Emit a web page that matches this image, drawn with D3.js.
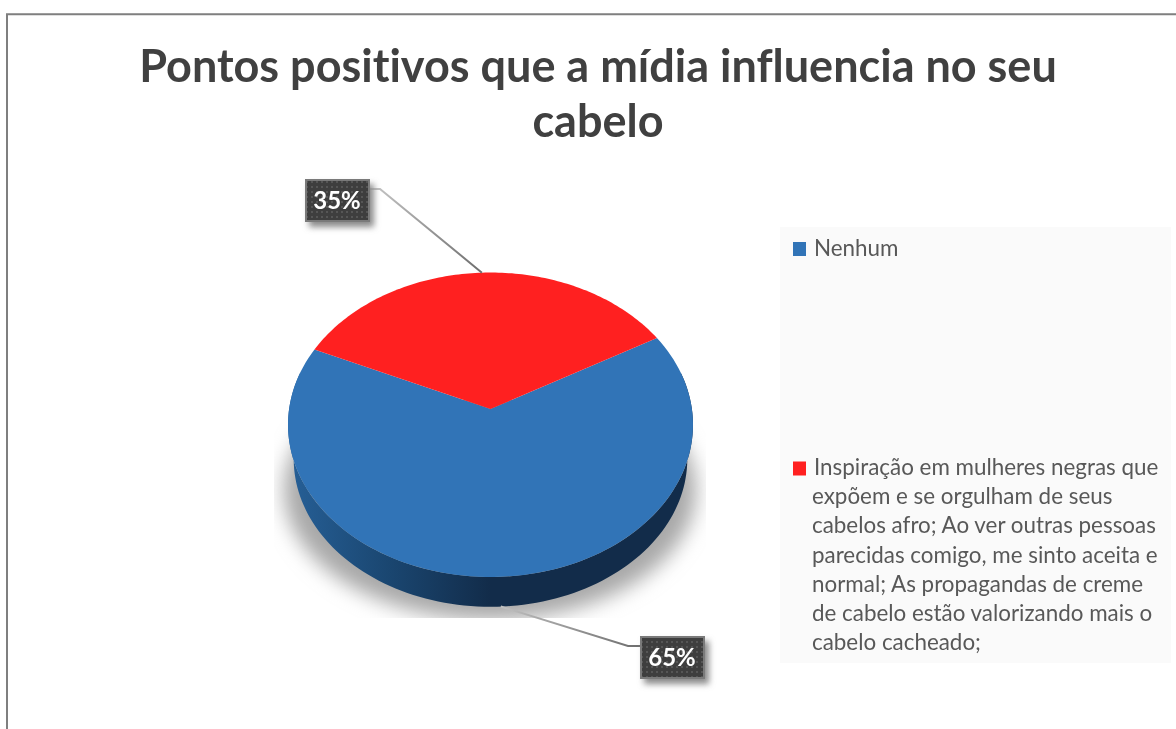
<!DOCTYPE html>
<html>
<head>
<meta charset="utf-8">
<script src="https://cdn.jsdelivr.net/npm/d3@7"></script>
<style>
	html, body { margin: 0; padding: 0; background: #fff; overflow: hidden; }
	svg { display: block; }
	text { font-family: Lato, "Open Sans", sans-serif; font-variant-ligatures: none; }
</style>
</head>
<body>
<div id="chart"></div>
<script>
// Chart data
let categories = ['Nenhum', 'Inspiração em mulheres negras que expõem e se orgulham de seus cabelos afro; Ao ver outras pessoas parecidas comigo, me sinto aceita e normal; As propagandas de creme de cabelo estão valorizando mais o cabelo cacheado;'];
let values = [65, 35];
let colors = ['#3174b7', '#ff2020'];
let titleLines = ['Pontos positivos que a mídia influencia no seu', 'cabelo'];
let legendLines = [
	['Nenhum'],
	['Inspiração em mulheres negras que', 'expõem e se orgulham de seus', 'cabelos afro; Ao ver outras pessoas', 'parecidas comigo, me sinto aceita e', 'normal; As propagandas de creme', 'de cabelo estão valorizando mais o', 'cabelo cacheado;']
];

let width = 1176;
let height = 729;

let svg = d3.select('#chart')
	.append('svg')
	.attr('width', width)
	.attr('height', height);

let defs = svg.append('defs');

defs.append('filter')
	.attr('id', 'pie-shadow')
	.attr('x', '-20%').attr('y', '-20%')
	.attr('width', '140%').attr('height', '140%')
	.append('feGaussianBlur')
	.attr('stdDeviation', 10);

defs.append('filter')
	.attr('id', 'box-shadow')
	.attr('x', '-30%').attr('y', '-30%')
	.attr('width', '160%').attr('height', '160%')
	.append('feGaussianBlur')
	.attr('stdDeviation', 3);

// The reference is a slightly soft screenshot
defs.append('filter')
	.attr('id', 'soft-text')
	.attr('x', '-5%').attr('y', '-5%')
	.attr('width', '110%').attr('height', '110%')
	.append('feGaussianBlur')
	.attr('stdDeviation', 0.45);

defs.append('clipPath')
	.attr('id', 'shadow-clip')
	.append('rect')
	.attr('x', 274).attr('y', 400)
	.attr('width', 432).attr('height', 218);

let sideGrad = defs.append('linearGradient')
	.attr('id', 'side-grad')
	.attr('gradientUnits', 'userSpaceOnUse')
	.attr('x1', 290).attr('x2', 690)
	.attr('y1', 0).attr('y2', 0);
sideGrad.append('stop').attr('offset', '0%').attr('stop-color', '#265f96');
sideGrad.append('stop').attr('offset', '25%').attr('stop-color', '#1a4670');
sideGrad.append('stop').attr('offset', '50%').attr('stop-color', '#122c4a');
sideGrad.append('stop').attr('offset', '100%').attr('stop-color', '#122c4a');

let dots = defs.append('pattern')
	.attr('id', 'box-dots')
	.attr('width', 5)
	.attr('height', 5)
	.attr('patternUnits', 'userSpaceOnUse');
dots.append('rect').attr('width', 5).attr('height', 5).attr('fill', '#3e3e3e');
dots.append('rect').attr('width', 2).attr('height', 2).attr('x', 1).attr('y', 1).attr('fill', '#565656');

// Chart frame, only top and left sides are inside the picture
svg.append('path')
	.attr('d', 'M7,729V14.3H1176')
	.attr('fill', 'none')
	.attr('stroke', '#7f7f7f')
	.attr('stroke-width', 2);

// Title
svg.append('g').selectAll('text')
	.data(titleLines)
	.enter()
	.append('text')
	.text(function(d){ return d; })
	.attr('x', 598)
	.attr('y', function(d, i){ return 82 + i * 55; })
	.attr('text-anchor', 'middle')
	.attr('font-size', 45)
	.attr('font-weight', 700)
	.attr('fill', '#404040')
	.attr('filter', 'url(#soft-text)');

// Perspective of the pie: a disc seen from above, so its centre sits above the ellipse middle
let persp = -0.1034;
function project(angle, scale, cy){
	let px = Math.sin(angle);
	let py = -Math.cos(angle);
	let w = 1 + persp * py;
	return [490.5 + 201.4 * scale * px / w, cy + 150.6 * scale * py / w];
}

let pieStart = 60.3 * Math.PI / 180;
let slices = d3.pie()
	.sort(null)
	.startAngle(pieStart)
	.endAngle(pieStart + 2 * Math.PI)(values);

let lineBuild = d3.line();

function angleSteps(a0, a1){
	return d3.range(0, 121).map(function(i){
		return a0 + (a1 - a0) * i / 120;
	});
}

function slicePath(d){
	let rim = angleSteps(d.startAngle, d.endAngle).map(function(a){
		return project(a, 1, 409);
	});
	return lineBuild([[490.5, 409]].concat(rim)) + 'Z';
}

// Shadow under the pie
svg.append('g')
	.attr('clip-path', 'url(#shadow-clip)')
	.append('ellipse')
	.attr('cx', 490)
	.attr('cy', 490)
	.attr('rx', 206)
	.attr('ry', 130)
	.attr('fill', '#a8a8a8')
	.attr('filter', 'url(#pie-shadow)');

// Side wall, front half of the rim
let sideTop = angleSteps(Math.PI * 0.42, Math.PI * 1.58).map(function(a){ return project(a, 1, 409); });
let sideBottom = angleSteps(Math.PI * 1.58, Math.PI * 0.42).map(function(a){ return project(a, 0.972, 443.5); });
svg.append('path')
	.attr('d', lineBuild(sideTop.concat(sideBottom)) + 'Z')
	.attr('fill', 'url(#side-grad)');

// Top of the pie
svg.append('g').selectAll('path')
	.data(slices)
	.enter()
	.append('path')
	.attr('d', slicePath)
	.attr('fill', function(d, i){ return colors[i]; });

// Data labels with leader lines
let labelBoxes = [
	{ x: 640, y: 636, elbow: 628, side: 0 },
	{ x: 305, y: 179, elbow: 380, side: 65 }
];
slices.forEach(function(d, i){
	let box = labelBoxes[i];
	let mid = (d.startAngle + d.endAngle) / 2;
	let anchor = i === 0 ? project(mid, 0.972, 443.5) : project(mid, 1, 409);
	let lineY = box.y + 10;
	let startX = box.x + box.side;

	let gradId = 'leader-' + i;
	let grad = defs.append('linearGradient')
		.attr('id', gradId)
		.attr('gradientUnits', 'userSpaceOnUse')
		.attr('x1', startX).attr('y1', lineY)
		.attr('x2', anchor[0]).attr('y2', anchor[1]);
	grad.append('stop').attr('offset', '0%').attr('stop-color', i === 0 ? '#6e6e6e' : '#c4c4c4');
	grad.append('stop').attr('offset', '100%').attr('stop-color', i === 0 ? '#c0c0c0' : '#6e6e6e');

	svg.append('path')
		.attr('d', lineBuild([[startX, lineY], [box.elbow, lineY], anchor]))
		.attr('fill', 'none')
		.attr('stroke', 'url(#' + gradId + ')')
		.attr('stroke-width', 2);

	svg.append('rect')
		.attr('x', box.x + 4).attr('y', box.y + 5)
		.attr('width', 65).attr('height', 43)
		.attr('fill', '#8a8a8a')
		.attr('filter', 'url(#box-shadow)');

	svg.append('rect')
		.attr('x', box.x + 1).attr('y', box.y + 1)
		.attr('width', 63).attr('height', 41)
		.attr('fill', 'url(#box-dots)')
		.attr('stroke', '#7a7a7a')
		.attr('stroke-width', 2);

	svg.append('text')
		.text(values[i] + '%')
		.attr('x', box.x + 32)
		.attr('y', box.y + 30)
		.attr('text-anchor', 'middle')
		.attr('font-size', 24)
		.attr('font-weight', 700)
		.attr('fill', '#fff')
		.attr('filter', 'url(#soft-text)');
});

// Legend
svg.append('rect')
	.attr('x', 780)
	.attr('y', 227)
	.attr('width', 391)
	.attr('height', 436)
	.attr('fill', '#fafafa');

let legendTop = [255.5, 475];
let legend = svg.append('g').selectAll('g')
	.data(categories)
	.enter()
	.append('g');

legend.append('rect')
	.attr('x', 793)
	.attr('y', function(d, i){ return legendTop[i] - 13.5; })
	.attr('width', 13)
	.attr('height', 14)
	.attr('fill', function(d, i){ return colors[i]; });

legend.each(function(d, i){
	d3.select(this).selectAll('text')
		.data(legendLines[i])
		.enter()
		.append('text')
		.text(function(t){ return t; })
		.attr('x', function(t, j){ return j === 0 ? 814 : 812; })
		.attr('y', function(t, j){ return legendTop[i] + j * 29.2; })
		.attr('font-size', 22.4)
		.attr('fill', '#595959')
		.attr('filter', 'url(#soft-text)');
});
</script>
</body>
</html>
